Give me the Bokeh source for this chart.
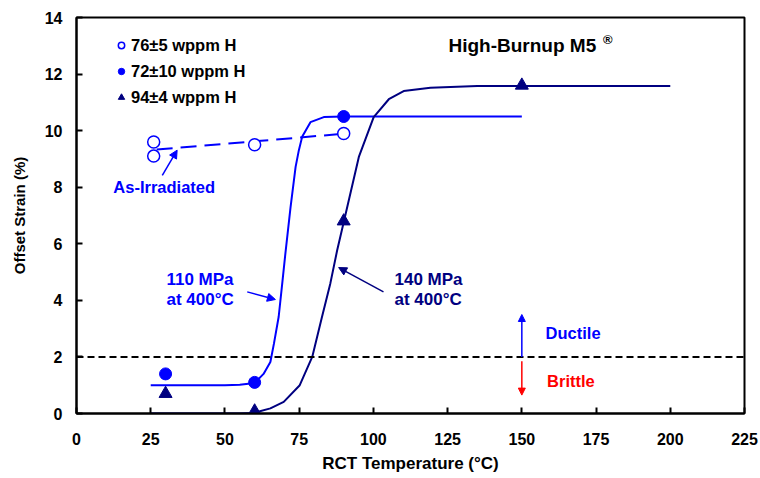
from bokeh.plotting import figure
from bokeh.models import (Arrow, NormalHead, Span, Label, Legend, LegendItem,
                          FixedTicker, Range1d)
from bokeh.embed import file_html
from bokeh.resources import INLINE

# ---- data ----
x_ticks = [0, 25, 50, 75, 100, 125, 150, 175, 200, 225]
y_ticks = [0, 2, 4, 6, 8, 10, 12, 14]

# 76±5 wppm H (as-irradiated)
open_x = [26, 26, 60, 90]
open_y = [9.6, 9.1, 9.5, 9.9]
# 72±10 wppm H (110 MPa at 400°C)
filled_x = [30, 60, 90]
filled_y = [1.4, 1.1, 10.5]
# 94±4 wppm H (140 MPa at 400°C)
tri_x = [30, 60, 90, 150]
tri_y = [0.7, 0.08, 6.8, 11.6]

# as-irradiated trend line
asirr_fit_x = [27, 89]
asirr_fit_y = [9.33, 9.88]

# 110 MPa fit curve
blue_fit_x = [25, 40, 50, 55, 60, 63, 65.3, 66.5, 68.1, 69.3, 70.4, 72.1, 73.8,
              74.9, 76.0, 78.8, 83.3, 90, 150]
blue_fit_y = [1.0, 1.0, 1.0, 1.02, 1.08, 1.4, 1.82, 2.47, 3.42, 4.6, 5.7, 7.3, 8.72,
              9.31, 9.78, 10.3, 10.48, 10.5, 10.5]

# 140 MPa fit curve
navy_fit_x = [25, 45, 55, 59.7, 65.3, 69.8, 75.2, 79.4, 82.7, 85.5, 87.8, 90,
              95.1, 100.1, 105.2, 110.2, 119.2, 135, 150, 200]
navy_fit_y = [0, 0, 0, 0.02, 0.18, 0.41, 1.0, 2.0, 3.42, 4.6, 5.77, 6.76,
              9.07, 10.48, 11.11, 11.4, 11.52, 11.58, 11.58, 11.58]

threshold = 2

BLUE = "#0000FF"
NAVY = "#000080"
RED = "#FF0000"
FONT = "Liberation Sans"

p = figure(width=760, height=478, x_range=Range1d(0, 225), y_range=Range1d(0, 14),
           output_backend="svg", toolbar_location=None,
           min_border_left=76, min_border_right=16, min_border_top=17,
           min_border_bottom=65)

p.xgrid.visible = False
p.ygrid.visible = False
p.outline_line_color = "black"
p.outline_line_width = 2
p.outline_line_alpha = 1
p.background_fill_color = "white"
p.border_fill_color = "white"

p.xaxis.ticker = FixedTicker(ticks=x_ticks)
p.yaxis.ticker = FixedTicker(ticks=y_ticks)
for ax in (p.xaxis, p.yaxis):
    ax.axis_line_width = 2
    ax.axis_line_color = "black"
    ax.major_tick_line_width = 2
    ax.major_tick_in = 6
    ax.major_tick_out = 0
    ax.minor_tick_line_color = None
    ax.major_label_text_font = FONT
    ax.major_label_text_font_style = "bold"
    ax.major_label_text_font_size = "16px"
    ax.major_label_text_color = "black"
    ax.axis_label_text_font = FONT
    ax.axis_label_text_font_style = "bold"
    ax.axis_label_text_color = "black"

p.xaxis.axis_label = "RCT Temperature (°C)"
p.yaxis.axis_label = "Offset Strain (%)"
p.xaxis.axis_label_text_font_size = "17px"
p.yaxis.axis_label_text_font_size = "15px"
p.xaxis.major_label_standoff = 19
p.yaxis.major_label_standoff = 14
p.xaxis.axis_label_standoff = 6
p.yaxis.axis_label_standoff = 14

# threshold dashed line
p.add_layout(Span(location=threshold, dimension="width", line_color="black",
                  line_width=2, line_dash="7 4"))

# fit curves
p.line(asirr_fit_x, asirr_fit_y, line_color=BLUE, line_width=2, line_dash="16 8")
p.line(blue_fit_x, blue_fit_y, line_color=BLUE, line_width=2)
p.line(navy_fit_x, navy_fit_y, line_color=NAVY, line_width=2)

# data markers
r_open = p.scatter(open_x, open_y, marker="circle", size=12, fill_color="white",
                   line_color=BLUE, line_width=1.5)
r_fill = p.scatter(filled_x, filled_y, marker="circle", size=12, fill_color=BLUE,
                   line_color=BLUE)
r_tri = p.scatter(tri_x, tri_y, marker="triangle", size=13, fill_color=NAVY,
                  line_color=NAVY)

legend = Legend(items=[LegendItem(label="76±5 wppm H", renderers=[r_open]),
                       LegendItem(label="72±10 wppm H", renderers=[r_fill]),
                       LegendItem(label="94±4 wppm H", renderers=[r_tri])],
                location=(37, 303), orientation="vertical",
                glyph_width=16, glyph_height=26, label_height=26, spacing=0,
                padding=0, margin=0, label_standoff=2,
                background_fill_alpha=0, border_line_alpha=0,
                label_text_font=FONT, label_text_font_style="bold",
                label_text_font_size="16.5px", label_text_color="black")
p.add_layout(legend)

def lab(x, y, text, color, size="17px", align="left", baseline="middle"):
    p.add_layout(Label(x=x, y=y, text=text, text_color=color, text_font=FONT,
                       text_font_style="bold", text_font_size=size,
                       text_align=align, text_baseline=baseline))

# title
lab(125.3, 13.0, "High-Burnup M5", "black", size="19px")
lab(177.3, 13.22, "®", "black", size="13px")

# annotations
lab(12.4, 8.0, "As-Irradiated", BLUE, size="16.5px")
lab(30.3, 4.74, "110 MPa", BLUE)
lab(30.3, 4.03, "at 400°C", BLUE)
lab(107.1, 4.74, "140 MPa", NAVY)
lab(107.1, 4.03, "at 400°C", NAVY)
lab(158, 2.86, "Ductile", BLUE, size="16.5px")
lab(158.5, 1.14, "Brittle", RED, size="16.5px")

def arrow(x0, y0, x1, y1, color, size=8):
    p.add_layout(Arrow(x_start=x0, y_start=y0, x_end=x1, y_end=y1,
                       line_color=color, line_width=1.5,
                       end=NormalHead(size=size, fill_color=color, line_color=color)))

arrow(28.9, 8.42, 33.9, 9.31, BLUE)
arrow(57.5, 4.30, 67.0, 4.03, BLUE)
arrow(103.4, 4.30, 88.3, 5.16, NAVY)
arrow(150, 2.0, 150, 3.5, BLUE, size=7)
arrow(150, 1.85, 150, 0.65, RED, size=7)

open("out.html", "w").write(file_html(p, INLINE))
